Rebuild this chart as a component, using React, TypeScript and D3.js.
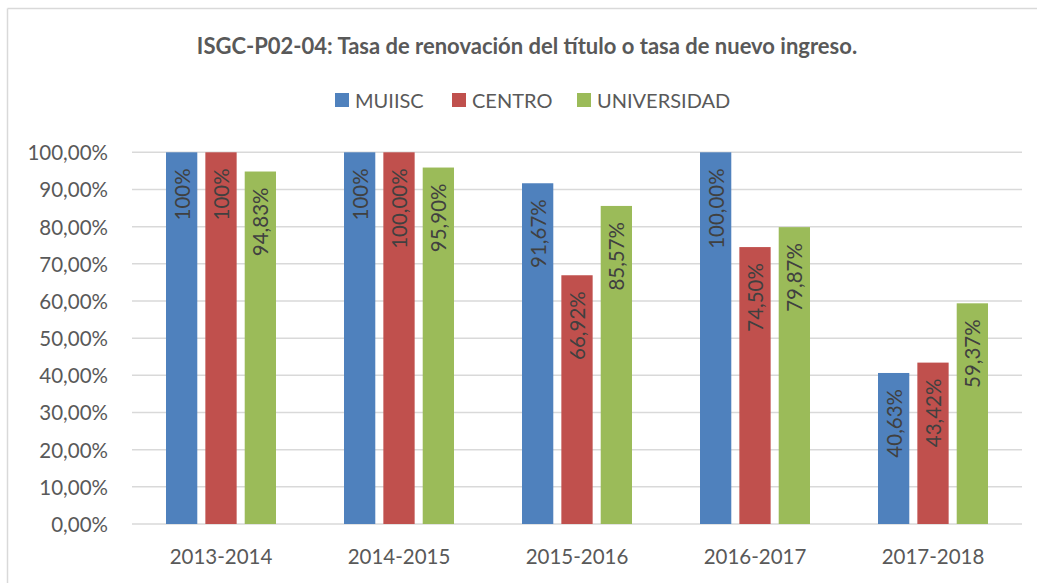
import React from "react";
import * as d3 from "d3";

const categories = ["2013-2014", "2014-2015", "2015-2016", "2016-2017", "2017-2018"];
const seriesNames = ["MUIISC", "CENTRO", "UNIVERSIDAD"];
const muiisc = [100, 100, 91.67, 100, 40.63];
const centro = [100, 100, 66.92, 74.5, 43.42];
const universidad = [94.83, 95.9, 85.57, 79.87, 59.37];
const muiiscLabels = ["100%", "100%", "91,67%", "100,00%", "40,63%"];
const centroLabels = ["100%", "100,00%", "66,92%", "74,50%", "43,42%"];
const universidadLabels = ["94,83%", "95,90%", "85,57%", "79,87%", "59,37%"];
const yTicks = [0, 10, 20, 30, 40, 50, 60, 70, 80, 90, 100];
const yTickLabels = ["0,00%", "10,00%", "20,00%", "30,00%", "40,00%", "50,00%", "60,00%", "70,00%", "80,00%", "90,00%", "100,00%"];
const colors = ["#4F81BD", "#C0504D", "#9BBB59"];

const series = [
  { name: seriesNames[0], values: muiisc, labels: muiiscLabels },
  { name: seriesNames[1], values: centro, labels: centroLabels },
  { name: seriesNames[2], values: universidad, labels: universidadLabels },
];

const W = 1037;
const H = 583;
const FONT = "Lato, 'Open Sans', sans-serif";
const TXT = "#595959";

export default function App() {
  const left = 132;
  const right = 1022;
  const top = 152.3;
  const bottom = 524;
  const x0 = d3.scaleBand().domain(categories).range([left, right]).paddingInner(0).paddingOuter(0);
  const groupW = 110;
  const x1 = d3
    .scaleBand()
    .domain(seriesNames)
    .range([0, groupW])
    .paddingInner(0.205)
    .paddingOuter(0);
  const y = d3.scaleLinear().domain([0, 100]).range([bottom, top]);

  const legendItems = [
    { name: "MUIISC", x: 335 },
    { name: "CENTRO", x: 452 },
    { name: "UNIVERSIDAD", x: 577 },
  ];

  return (
    <svg width={W} height={H} style={{ position: "absolute", left: 0, top: 0 }} fontFamily={FONT}>
      <rect x={0} y={0} width={W} height={H} fill="#fff" />
      <line x1={7.5} x2={W} y1={8.5} y2={8.5} stroke="#d9d9d9" strokeWidth={1.5} />
      <line x1={7.5} x2={7.5} y1={8.5} y2={H} stroke="#d9d9d9" strokeWidth={1.5} />
      <text x={527} y={45} textAnchor="middle" dominantBaseline="central" fontSize={22} fontWeight="bold" fill={TXT}>
        ISGC-P02-04: Tasa de renovación del título o tasa de nuevo ingreso.
      </text>
      {legendItems.map((it, i) => (
        <g key={it.name}>
          <rect x={it.x} y={93} width={14} height={14} fill={colors[i]} />
          <text x={it.x + 20} y={100} dominantBaseline="central" fontSize={20} fill={TXT}>
            {it.name}
          </text>
        </g>
      ))}
      {yTicks.map((t, i) => (
        <g key={t}>
          <line x1={left} x2={right} y1={y(t)} y2={y(t)} stroke="#d9d9d9" strokeWidth={1.5} />
          <text x={108} y={y(t)} textAnchor="end" dominantBaseline="central" fontSize={20.5} fill={TXT}>
            {yTickLabels[i]}
          </text>
        </g>
      ))}
      {categories.map((c, ci) => {
        const gx = (x0(c) as number) + x0.bandwidth() / 2 - groupW / 2;
        return (
          <g key={c}>
            {series.map((s, si) => {
              const bx = gx + (x1(s.name) as number);
              const bw = x1.bandwidth();
              const by = y(s.values[ci]);
              return (
                <g key={s.name}>
                  <rect x={bx} y={by} width={bw} height={bottom - by} fill={colors[si]} />
                  <text
                    transform={`translate(${bx + bw / 2},${by + 16}) rotate(-90)`}
                    textAnchor="end"
                    dominantBaseline="central"
                    fontSize={20.5}
                    fill="#404040"
                  >
                    {s.labels[ci]}
                  </text>
                </g>
              );
            })}
            <text x={(x0(c) as number) + x0.bandwidth() / 2} y={556} textAnchor="middle" dominantBaseline="central" fontSize={20.5} fill={TXT}>
              {c}
            </text>
          </g>
        );
      })}
    </svg>
  );
}
